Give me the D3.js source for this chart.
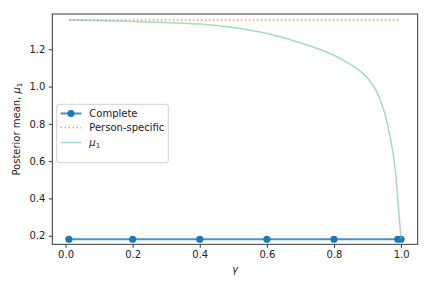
<!DOCTYPE html>
<html><head><meta charset="utf-8">
<script src="https://cdn.jsdelivr.net/npm/d3@7"></script>
<style>
body{margin:0;background:#fff;}
text{font-family:"DejaVu Sans",sans-serif;}
</style></head>
<body><svg id="c" width="432" height="288"></svg>
<script>
const gammaComplete = [0.01, 0.2, 0.4, 0.6, 0.8, 0.99, 1.0];
const complete = [0.181, 0.181, 0.181, 0.181, 0.181, 0.181, 0.181];
const gammaPerson = [0.01, 1.0];
const personSpecific = [1.357, 1.357];
const gammaMu = [0.01, 0.1, 0.2, 0.3, 0.4, 0.5, 0.55, 0.6, 0.65, 0.7, 0.75, 0.8, 0.85, 0.88, 0.9, 0.915, 0.93, 0.945, 0.955, 0.965, 0.975, 0.983, 0.99, 0.995, 1.0];
const mu1 = [1.357, 1.354, 1.349, 1.343, 1.335, 1.316, 1.302, 1.285, 1.262, 1.234, 1.204, 1.168, 1.118, 1.080, 1.045, 1.010, 0.962, 0.893, 0.832, 0.752, 0.655, 0.545, 0.40, 0.29, 0.181];
const xTicks = [0.0, 0.2, 0.4, 0.6, 0.8, 1.0];
const yTicks = [0.2, 0.4, 0.6, 0.8, 1.0, 1.2];

const L = 52.3, R = 417.7, T = 14, B = 244.3;
const svg = d3.select("#c");
const x = d3.scaleLinear().domain([-0.0395, 1.0495]).range([L, R]);
const y = d3.scaleLinear().domain([0.154, 1.389]).range([B, T]);

// axes
const xa = svg.append("g").attr("transform", `translate(0,${B})`)
  .call(d3.axisBottom(x).tickValues(xTicks).tickFormat(d3.format(".1f")).tickSize(3.5).tickPadding(3.5));
const ya = svg.append("g").attr("transform", `translate(${L},0)`)
  .call(d3.axisLeft(y).tickValues(yTicks).tickFormat(d3.format(".1f")).tickSize(3.5).tickPadding(3.5));
[xa, ya].forEach(a => {
  a.select(".domain").remove();
  a.selectAll("line").attr("stroke", "#000").attr("stroke-width", 0.8);
  a.selectAll("text").attr("font-size", 10).attr("fill", "#222").attr("font-family", "DejaVu Sans");
});

// lines
const line = (xs, ys) => d3.line().x((d, i) => x(xs[i])).y(d => y(d))(ys);
svg.append("path").attr("d", line(gammaComplete, complete)).attr("fill", "none")
  .attr("stroke", "#1f77b4").attr("stroke-opacity", 0.8).attr("stroke-width", 2);
svg.selectAll("circle.c").data(complete).join("circle").attr("class", "c")
  .attr("cx", (d, i) => x(gammaComplete[i])).attr("cy", d => y(d)).attr("r", 3.6).attr("fill", "#1f77b4");
svg.append("path").attr("d", line(gammaPerson, personSpecific)).attr("fill", "none")
  .attr("stroke", "#ff7f0e").attr("stroke-opacity", 0.8).attr("stroke-width", 1.5).attr("stroke-dasharray", "1.5,2.5");
svg.append("path").attr("d", d3.line().curve(d3.curveMonotoneX).x((d, i) => x(gammaMu[i])).y(d => y(d))(mu1)).attr("fill", "none")
  .attr("stroke", "#66c2a5").attr("stroke-opacity", 0.6).attr("stroke-width", 1.5);

// frame
svg.append("rect").attr("x", L).attr("y", T).attr("width", R - L).attr("height", B - T)
  .attr("fill", "none").attr("stroke", "#222").attr("stroke-width", 0.9);

// legend
const lg = svg.append("g");
lg.append("rect").attr("x", 56.7).attr("y", 104.3).attr("width", 111.6).attr("height", 58.4).attr("rx", 2.5)
  .attr("fill", "#fff").attr("fill-opacity", 0.8).attr("stroke", "#ccc").attr("stroke-width", 0.9);
const items = [
  {label: "Complete", color: "#1f77b4", op: 0.8, dash: null, w: 2, marker: true, yy: 113.5},
  {label: "Person-specific", color: "#ff7f0e", op: 0.8, dash: "1.5,2.5", w: 1.5, marker: false, yy: 127.5},
  {label: "mu", color: "#66c2a5", op: 0.6, dash: null, w: 1.5, marker: false, yy: 142.5}
];
items.forEach(it => {
  lg.append("line").attr("x1", 60.5).attr("x2", 81.5).attr("y1", it.yy).attr("y2", it.yy)
    .attr("stroke", it.color).attr("stroke-opacity", it.op).attr("stroke-width", it.w).attr("stroke-dasharray", it.dash);
  if (it.marker) lg.append("circle").attr("cx", 71).attr("cy", it.yy).attr("r", 3.6).attr("fill", it.color);
  const t = lg.append("text").attr("x", 89.3).attr("y", it.yy + 3.6).attr("font-size", 10).attr("fill", "#222");
  if (it.label === "mu") {
    t.append("tspan").attr("font-style", "italic").text("μ");
    t.append("tspan").attr("font-size", 7).attr("dy", 1.5).text("1");
  } else t.text(it.label);
});

// axis labels
const yl = svg.append("text").attr("transform", `translate(20,${(T + B) / 2}) rotate(-90)`)
  .attr("text-anchor", "middle").attr("font-size", 10).attr("fill", "#222");
yl.append("tspan").text("Posterior mean, ");
yl.append("tspan").attr("font-style", "italic").text("μ");
yl.append("tspan").attr("font-size", 7).attr("dy", 1.5).text("1");
svg.append("text").attr("x", (L + R) / 2).attr("y", 273).attr("text-anchor", "middle")
  .attr("font-size", 10).attr("font-style", "italic").attr("fill", "#222").text("γ");
</script></body></html>
